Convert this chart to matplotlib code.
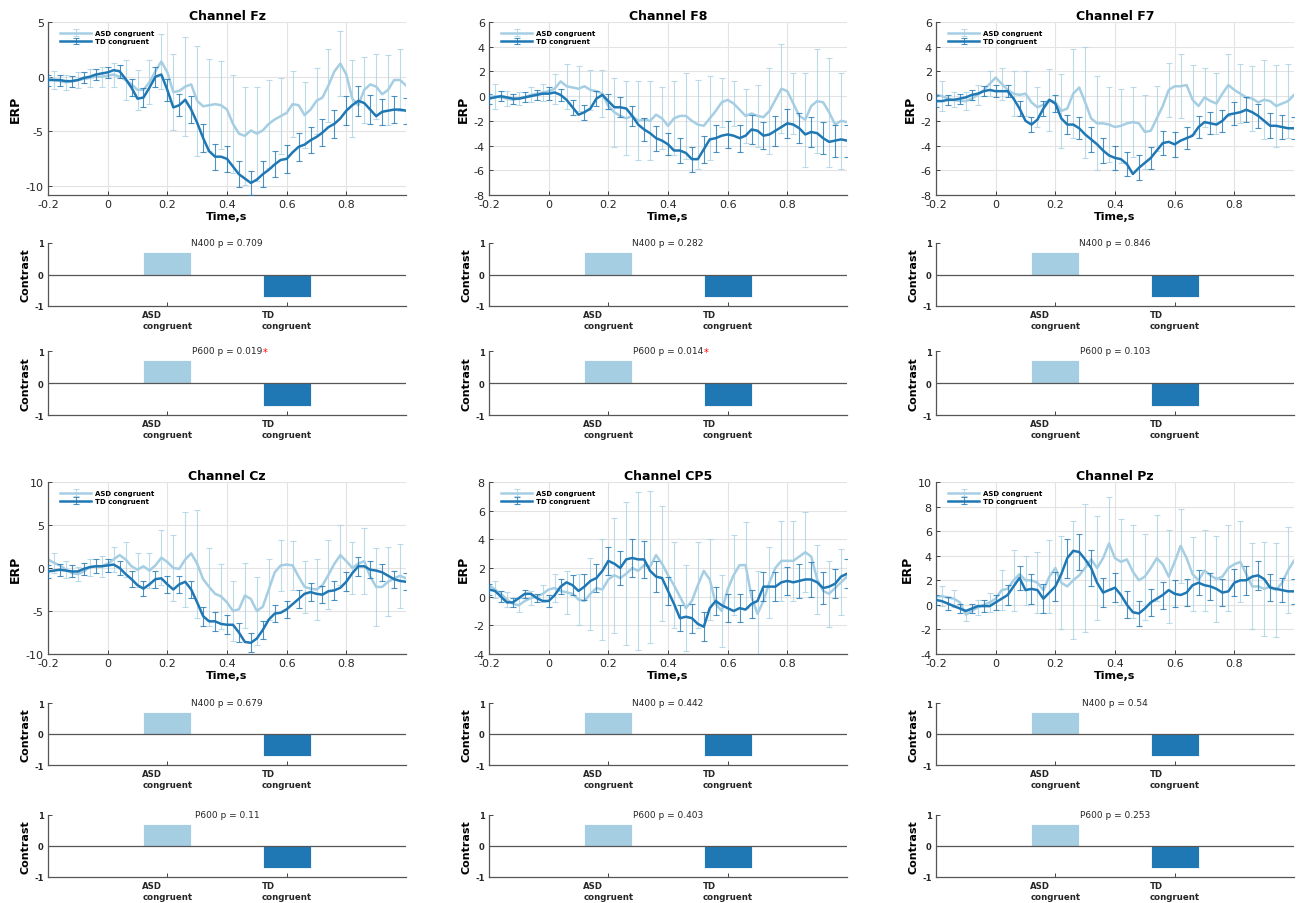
import numpy as np
import matplotlib.pyplot as plt

plt.rcParams['font.family'] = 'DejaVu Sans'
plt.rcParams['axes.unicode_minus'] = False

# ---- data ----
t = np.round(np.arange(-0.2, 1.0001, 0.02), 2)   # 61 time points, s

channels = ['Fz', 'F8', 'F7', 'Cz', 'CP5', 'Pz']

fz_asd = [-0.1, -0.3, -0.4, -0.5, -0.4, -0.3, -0.2, -0.1, 0.0, 0.0,
          0.1, 0.2, 0.0, -0.3, -0.7, -1.2, -1.2, -0.5, 0.5, 1.4,
          0.4, -1.4, -1.3, -0.9, -0.7, -2.2, -2.7, -2.6, -2.5, -2.6,
          -3.0, -4.3, -5.2, -5.4, -4.9, -5.2, -4.9, -4.3, -3.9, -3.6,
          -3.3, -2.5, -2.6, -3.5, -3.0, -2.2, -1.9, -0.8, 0.5, 1.2,
          0.2, -2.0, -2.6, -1.2, -0.7, -0.9, -1.6, -1.2, -0.3, -0.3, -0.8]
fz_td = [-0.3, -0.3, -0.3, -0.4, -0.4, -0.3, -0.1, 0.0, 0.2, 0.3,
         0.4, 0.6, 0.5, -0.2, -1.0, -2.0, -1.9, -1.0, 0.0, 0.2,
         -1.2, -2.8, -2.6, -2.1, -3.0, -4.2, -5.6, -6.8, -7.3, -7.3,
         -7.5, -8.2, -8.9, -9.3, -9.7, -9.4, -8.9, -8.5, -8.0, -7.6,
         -7.5, -6.9, -6.4, -6.2, -5.8, -5.5, -5.1, -4.6, -4.3, -3.8,
         -3.1, -2.6, -2.2, -2.4, -3.0, -3.6, -3.2, -3.1, -3.0, -3.0, -3.1]
fz_asd_err = [0.8, 0.7, 0.7, 0.8, 0.9, 1.1, 1.8, 1.8, 2.0, 2.5,
              3.5, 4.5, 5.0, 4.2, 4.0, 4.5, 4.5, 4.3, 4.0, 3.5,
              3.0, 3.0, 3.0, 3.3, 3.0, 3.5, 3.0, 3.0, 3.2, 2.8]
fz_td_err = [0.5, 0.5, 0.5, 0.5, 0.5, 0.5, 0.6, 0.8, 0.9, 0.9,
             1.0, 1.0, 1.2, 1.3, 1.2, 1.2, 1.2, 1.1, 1.2, 1.2,
             1.3, 1.3, 1.2, 1.2, 1.3, 1.3, 1.4, 1.3, 1.2, 1.2, 1.2]

f8_asd = [-0.1, 0.0, -0.1, -0.2, -0.3, -0.2, -0.1, 0.1, 0.2, 0.3,
          0.4, 0.6, 1.2, 0.8, 0.7, 0.6, 0.8, 0.5, 0.4, 0.2,
          -0.8, -1.3, -1.6, -1.8, -1.6, -2.0, -1.9, -2.0, -1.5, -1.8,
          -2.4, -1.8, -1.6, -1.6, -2.0, -2.3, -2.4, -1.8, -1.2, -0.5,
          -0.3, -0.6, -1.1, -1.6, -1.4, -1.6, -1.7, -1.2, -0.3, 0.6,
          0.4, -0.6, -1.6, -1.9, -0.8, -0.4, -0.5, -1.3, -2.3, -2.0, -2.1]
f8_td = [-0.2, -0.1, 0.0, -0.1, -0.2, -0.2, -0.1, 0.0, 0.1, 0.2,
         0.2, 0.3, 0.1, -0.3, -0.9, -1.5, -1.3, -1.0, -0.2, 0.1,
         -0.4, -0.9, -0.9, -1.0, -1.6, -2.3, -2.7, -3.0, -3.4, -3.6,
         -3.9, -4.4, -4.4, -4.6, -5.1, -5.1, -4.3, -3.5, -3.4, -3.2,
         -3.1, -3.2, -3.4, -3.2, -2.7, -2.8, -3.2, -3.1, -2.8, -2.5,
         -2.2, -2.3, -2.6, -3.1, -2.9, -3.0, -3.4, -3.7, -3.6, -3.5, -3.6]
f8_asd_err = [1.0, 0.6, 0.5, 0.6, 0.7, 1.2, 1.8, 1.8, 1.6, 1.9,
              2.8, 3.0, 3.2, 3.2, 2.5, 3.0, 3.5, 3.6, 3.4, 2.0,
              1.8, 2.2, 2.5, 3.5, 3.6, 2.5, 3.8, 4.2, 4.4, 3.9]
f8_td_err = [0.4, 0.4, 0.4, 0.4, 0.4, 0.5, 0.5, 0.6, 0.6, 0.6,
             0.6, 0.8, 0.8, 0.9, 1.0, 0.9, 1.0, 1.0, 1.1, 1.1,
             1.1, 1.1, 1.2, 1.1, 1.2, 1.2, 1.2, 1.2, 1.3, 1.3, 1.3]

f7_asd = [0.1, 0.0, -0.2, -0.3, -0.4, -0.4, -0.2, 0.1, 0.5, 1.0,
          1.5, 1.0, 0.5, 0.2, 0.1, 0.2, -0.5, -0.9, -0.7, -0.3,
          -0.5, -1.2, -1.0, 0.2, 0.7, -0.5, -1.8, -2.2, -2.2, -2.3,
          -2.5, -2.4, -2.2, -2.1, -2.2, -2.9, -2.8, -1.8, -0.8, 0.5,
          0.8, 0.8, 0.9, -0.3, -0.8, -0.1, -0.4, -0.6, 0.2, 0.9,
          0.5, 0.2, -0.1, -0.2, -0.5, -0.3, -0.4, -0.8, -0.6, -0.4, 0.1]
f7_td = [-0.4, -0.4, -0.3, -0.3, -0.2, -0.1, 0.1, 0.2, 0.4, 0.5,
         0.4, 0.4, 0.4, -0.2, -1.0, -2.0, -2.3, -1.9, -1.0, -0.3,
         -0.6, -1.8, -2.3, -2.3, -2.6, -3.1, -3.5, -3.9, -4.4, -4.8,
         -5.0, -5.1, -5.5, -6.3, -5.8, -5.4, -5.0, -4.4, -3.8, -3.7,
         -3.9, -3.6, -3.4, -3.2, -2.5, -2.1, -2.2, -2.3, -2.0, -1.5,
         -1.4, -1.3, -1.1, -1.3, -1.6, -2.0, -2.4, -2.4, -2.5, -2.6, -2.6]
f7_asd_err = [1.2, 0.6, 0.7, 0.8, 1.0, 1.3, 1.8, 1.8, 1.6, 2.5,
              3.0, 3.6, 4.5, 3.8, 3.0, 3.0, 2.8, 3.0, 2.6, 2.2,
              2.6, 2.8, 2.4, 2.5, 2.5, 2.4, 2.6, 3.2, 3.3, 3.0]
f7_td_err = [0.5, 0.4, 0.4, 0.4, 0.4, 0.5, 0.5, 0.6, 0.6, 0.6,
             0.7, 0.8, 0.9, 1.0, 1.0, 1.0, 1.0, 1.0, 0.9, 1.0,
             1.0, 0.9, 0.9, 0.9, 0.9, 0.9, 1.0, 1.0, 1.0, 1.0, 0.9]

cz_asd = [1.0, 0.6, 0.3, -0.2, -0.6, -0.7, -0.4, 0.1, 0.2, 0.2,
          0.5, 1.0, 1.5, 1.0, 0.2, -0.2, 0.2, -0.3, 0.3, 1.2,
          0.7, 0.0, -0.1, 1.0, 1.7, 0.5, -1.3, -2.2, -3.0, -3.3,
          -4.0, -5.0, -4.8, -3.2, -3.6, -5.0, -4.5, -2.5, -0.5, 0.3,
          0.4, 0.3, -1.0, -2.2, -2.4, -2.5, -2.0, -0.8, 0.5, 1.5,
          0.8, 0.0, 0.5, 0.8, -1.0, -2.2, -2.2, -1.6, -1.2, -0.9, -1.2]
cz_td = [-0.4, -0.3, -0.2, -0.3, -0.4, -0.4, -0.1, 0.1, 0.2, 0.2,
         0.3, 0.4, 0.0, -0.7, -1.3, -2.0, -2.4, -1.9, -1.3, -1.2,
         -1.9, -2.5, -1.9, -1.6, -2.5, -4.0, -5.6, -6.2, -6.2, -6.5,
         -6.6, -6.6, -7.5, -8.6, -8.7, -8.2, -7.2, -6.0, -5.3, -5.2,
         -4.8, -4.2, -3.6, -3.0, -2.8, -3.0, -3.1, -2.7, -2.6, -2.3,
         -1.6, -0.6, 0.2, 0.2, -0.2, -0.3, -0.5, -0.9, -1.3, -1.5, -1.6]
cz_asd_err = [1.2, 1.0, 0.8, 1.0, 1.2, 1.5, 2.0, 2.0, 2.0, 3.2,
              3.8, 5.5, 6.3, 4.5, 3.8, 3.5, 3.8, 4.0, 3.5, 3.0,
              2.8, 3.0, 3.5, 4.0, 3.5, 3.0, 3.8, 4.5, 4.0, 3.7]
cz_td_err = [0.8, 0.7, 0.7, 0.7, 0.8, 0.8, 0.8, 0.9, 0.9, 1.0,
             1.0, 1.0, 1.0, 1.1, 1.1, 1.1, 1.1, 1.1, 1.0, 1.0,
             1.0, 1.0, 1.0, 1.0, 1.1, 1.1, 1.1, 1.0, 1.0, 1.0, 1.0]

cp5_asd = [0.8, 0.5, 0.2, -0.2, -0.5, -0.6, -0.3, -0.1, 0.0, 0.2,
           0.5, 0.6, 0.4, 0.3, 0.2, -0.2, -0.3, 0.2, 0.6, 0.5,
           1.2, 1.5, 1.3, 1.6, 2.0, 1.8, 2.2, 2.1, 2.9, 2.3,
           1.5, 0.8, 0.0, -0.8, -0.3, 0.8, 1.8, 1.2, -0.5, -1.0,
           0.5, 1.5, 2.2, 2.2, 0.0, -1.2, -0.3, 1.0, 2.0, 2.5,
           2.5, 2.5, 2.8, 3.1, 2.8, 1.2, 0.4, 0.2, 0.6, 1.0, 1.4]
cp5_td = [0.5, 0.4, 0.0, -0.4, -0.4, -0.1, 0.2, 0.2, -0.1, -0.3,
          -0.3, 0.1, 0.7, 1.0, 0.8, 0.4, 0.7, 1.1, 1.3, 1.8,
          2.5, 2.3, 2.0, 2.6, 2.7, 2.6, 2.6, 1.8, 1.4, 1.3,
          0.4, -0.5, -1.5, -1.4, -1.5, -1.9, -2.1, -0.8, -0.3, -0.6,
          -0.8, -1.0, -0.8, -0.9, -0.5, -0.3, 0.7, 0.7, 0.7, 1.0,
          1.1, 1.0, 1.1, 1.2, 1.2, 1.0, 0.6, 0.7, 0.9, 1.4, 1.6]
cp5_asd_err = [0.6, 0.5, 0.5, 0.5, 0.6, 1.0, 1.5, 1.8, 2.5, 3.5,
               4.0, 5.0, 5.5, 5.3, 4.0, 3.0, 3.0, 3.0, 2.8, 2.5,
               2.8, 3.0, 3.0, 2.5, 2.8, 2.8, 2.8, 2.4, 2.3, 2.3]
cp5_td_err = [0.4, 0.4, 0.3, 0.3, 0.3, 0.4, 0.5, 0.7, 0.9, 1.0,
              1.0, 1.2, 1.3, 1.3, 1.1, 1.0, 0.9, 1.0, 1.0, 1.0,
              1.0, 1.0, 1.0, 1.0, 1.0, 1.0, 1.2, 1.2, 1.1, 1.0, 1.0]

pz_asd = [0.7, 0.7, 0.6, 0.5, 0.2, -0.8, -0.5, -0.2, 0.0, 0.2,
          0.5, 1.2, 1.3, 2.0, 2.5, 2.0, 2.0, 1.8, 1.2, 2.3,
          3.0, 1.8, 1.5, 2.0, 2.4, 3.0, 3.7, 3.0, 3.8, 5.0,
          3.8, 3.5, 3.7, 2.7, 2.0, 2.3, 3.0, 3.8, 3.3, 2.3,
          3.5, 4.8, 3.8, 2.5, 2.0, 2.8, 2.4, 2.1, 2.3, 3.0,
          3.3, 3.5, 2.5, 1.5, 1.5, 1.3, 1.5, 1.2, 1.8, 2.8, 3.6]
pz_td = [0.4, 0.3, 0.1, -0.1, -0.3, -0.5, -0.3, -0.1, -0.1, -0.1,
         0.2, 0.5, 0.8, 1.5, 2.2, 1.2, 1.3, 1.2, 0.5, 1.0,
         1.5, 2.5, 3.8, 4.4, 4.3, 3.7, 3.0, 1.8, 1.0, 1.2,
         1.4, 0.8, 0.0, -0.6, -0.7, -0.3, 0.2, 0.5, 0.8, 1.2,
         0.9, 0.8, 1.0, 1.6, 1.8, 1.6, 1.5, 1.3, 1.0, 1.1,
         1.8, 2.0, 2.0, 2.3, 2.4, 2.1, 1.4, 1.3, 1.2, 1.1, 1.1]
pz_asd_err = [0.8, 0.7, 0.5, 0.6, 0.8, 1.6, 2.5, 2.0, 2.5, 3.0,
              3.8, 4.8, 5.2, 4.2, 3.8, 3.5, 3.8, 3.5, 3.5, 3.8,
              3.0, 3.0, 3.3, 3.5, 3.5, 3.3, 3.5, 3.8, 3.8, 3.5]
pz_td_err = [0.4, 0.5, 0.4, 0.4, 0.5, 0.6, 0.8, 1.0, 1.2, 1.2,
             1.2, 1.6, 1.5, 1.5, 1.2, 1.2, 1.1, 1.0, 1.1, 1.1,
             1.1, 1.1, 1.0, 1.1, 1.1, 1.1, 1.2, 1.2, 1.1, 1.0, 1.0]

asd_mean = [fz_asd, f8_asd, f7_asd, cz_asd, cp5_asd, pz_asd]
td_mean = [fz_td, f8_td, f7_td, cz_td, cp5_td, pz_td]
asd_err = [fz_asd_err, f8_asd_err, f7_asd_err, cz_asd_err, cp5_asd_err, pz_asd_err]
td_err = [fz_td_err, f8_td_err, f7_td_err, cz_td_err, cp5_td_err, pz_td_err]

ylims = [(-10.8, 5), (-8, 6), (-8, 6), (-10, 10), (-4, 8), (-4, 10)]
yticks = [[-10, -5, 0, 5], range(-8, 7, 2), range(-8, 7, 2),
          [-10, -5, 0, 5, 10], range(-4, 9, 2), range(-4, 11, 2)]

groups = ['ASD\ncongruent', 'TD\ncongruent']
contrast = [0.707, -0.707]
n400_p = ['0.709', '0.282', '0.846', '0.679', '0.442', '0.54']
p600_p = ['0.019', '0.014', '0.103', '0.11', '0.403', '0.253']
sig = 0.05

c_asd = '#a6cee3'
c_td = '#1f78b4'
dark = '#262626'

W, H = 1304, 904
fig = plt.figure(figsize=(W / 100, H / 100), dpi=100)


def px_axes(x0, x1, y0, y1):
    return fig.add_axes([x0 / W, 1 - y1 / H, (x1 - x0) / W, (y1 - y0) / H])


cols_x = [(48, 406), (489, 847), (936, 1294)]
erp_y = [(23, 196), (483, 655)]
n400_y = [(244, 307), (704, 766)]
p600_y = [(352, 416), (816, 878)]


def bar_panel(ax, label, p):
    ax.bar([1, 2], contrast, width=0.4, color=[c_asd, c_td],
           edgecolor='white', linewidth=0.6, zorder=2)
    ax.axhline(0, color='#555555', lw=0.9, zorder=3)
    ax.set_xlim(0, 3)
    ax.set_ylim(-1, 1)
    ax.set_yticks([-1, 0, 1])
    ax.set_yticklabels(['-1', '0', '1'], fontsize=6, fontweight='bold')
    ax.set_xticks([1, 2])
    ax.set_xticklabels(groups, fontsize=6.2, fontweight='bold',
                       multialignment='left')
    ax.tick_params(direction='in', length=3, width=0.6, colors=dark, pad=3)
    for s in ['top', 'right']:
        ax.spines[s].set_visible(False)
    for s in ['left', 'bottom']:
        ax.spines[s].set_color('#555555')
        ax.spines[s].set_linewidth(0.9)
    ax.set_ylabel('Contrast', fontsize=8, fontweight='bold', labelpad=3)
    txt = ax.text(0.5, 1.0, f'{label} p = {p}', transform=ax.transAxes,
                  ha='center', va='baseline', fontsize=6.5, color=dark)
    txt.set_y(1.0 - 2 / ax.bbox.height)
    if float(p) < sig:
        ax.annotate('*', xy=(1, 1), xycoords=txt, xytext=(0.5, -1),
                    textcoords='offset points', ha='left', va='top',
                    color='red', fontsize=7)


for k, ch in enumerate(channels):
    r, c = divmod(k, 3)
    x0, x1 = cols_x[c]
    ax = px_axes(x0, x1, *erp_y[r])

    asd = np.array(asd_mean[k])
    td = np.array(td_mean[k])
    e_asd = np.zeros(len(t))
    e_asd[1::2] = asd_err[k]
    e_td = np.zeros(len(t))
    e_td[0::2] = td_err[k]

    ax.errorbar(t, asd, yerr=e_asd, errorevery=(1, 2), color=c_asd, lw=1.8,
                ecolor=(0.65, 0.81, 0.89, 0.75), elinewidth=0.8, capsize=2.5,
                capthick=0.8, label='ASD congruent', zorder=2)
    ax.errorbar(t, td, yerr=e_td, errorevery=(0, 2), color=c_td, lw=1.8,
                ecolor=(0.12, 0.47, 0.71, 0.8), elinewidth=0.8, capsize=2.5,
                capthick=0.8, label='TD congruent', zorder=3)

    ax.set_xlim(-0.2, 1.0)
    ax.set_ylim(*ylims[k])
    ax.set_xticks([-0.2, 0, 0.2, 0.4, 0.6, 0.8])
    ax.set_xticklabels(['-0.2', '0', '0.2', '0.4', '0.6', '0.8'])
    ax.set_yticks(list(yticks[k]))
    ax.set_yticklabels([str(v) for v in yticks[k]])
    ax.tick_params(direction='in', length=3, width=0.6, colors=dark,
                   labelsize=8, pad=3)
    ax.grid(True, color='#e3e3e3', lw=0.8, zorder=0)
    ax.set_axisbelow(True)
    for s in ['top', 'right']:
        ax.spines[s].set_visible(False)
    for s in ['left', 'bottom']:
        ax.spines[s].set_color('#555555')
        ax.spines[s].set_linewidth(0.9)
    ax.set_title(f'Channel {ch}', fontsize=9, fontweight='bold', pad=2,
                 color='black')
    ax.set_xlabel('Time,s', fontsize=8, fontweight='bold', labelpad=1)
    ax.set_ylabel('ERP', fontsize=9, fontweight='bold', labelpad=3)
    ax.legend(loc='upper left', bbox_to_anchor=(0.02, 0.98), frameon=False,
              prop={'size': 5, 'weight': 'bold'}, handlelength=4.5,
              labelspacing=0.3, handletextpad=0.6, borderpad=0.2)

    bar_panel(px_axes(x0, x1, *n400_y[r]), 'N400', n400_p[k])
    bar_panel(px_axes(x0, x1, *p600_y[r]), 'P600', p600_p[k])

fig.savefig('out.png', dpi=100, facecolor='white')
